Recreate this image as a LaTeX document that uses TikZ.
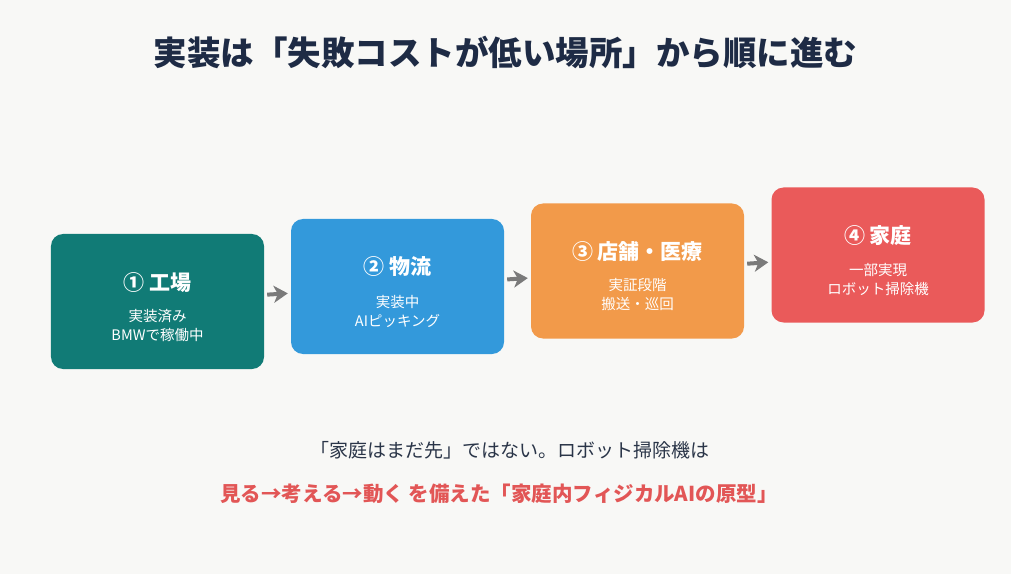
\documentclass[tikz,border=0pt]{standalone}
\usepackage{fontspec}
\setmainfont{Noto Sans CJK JP}
\usetikzlibrary{arrows.meta}
\definecolor{bgcol}{HTML}{F8F8F6}
\definecolor{navy}{HTML}{1E2B45}
\definecolor{textdark}{HTML}{2A3548}
\definecolor{accentred}{HTML}{E25656}
\definecolor{teal}{HTML}{117B76}
\definecolor{skyblue}{HTML}{3399DB}
\definecolor{orange}{HTML}{F29A4A}
\definecolor{coral}{HTML}{EA5A5A}
\definecolor{arrowgray}{HTML}{7A7A7A}
\tikzset{
  stage/.style={rounded corners=12bp,minimum width=213bp,minimum height=135bp,inner sep=0pt},
  stagetitle/.style={text=white,font=\fontsize{21bp}{25bp}\selectfont\bfseries},
  stagenote/.style={text=white,align=center,font=\fontsize{14.5bp}{19bp}\selectfont},
  flow/.style={draw=arrowgray,line width=4bp,-{Stealth[length=14bp,width=17bp,inset=4bp]},shorten <=3bp,shorten >=3bp},
}
\begin{document}
\begin{tikzpicture}[x=1bp,y=-1bp]
%%
\fill [bgcol] (0,0) rectangle (1011,574);
\useasboundingbox (0,0) rectangle (1011,574);
\node (title) at (505.5,52) [text=navy,font=\fontsize{33.5bp}{40bp}\selectfont\bfseries] {実装は「失敗コストが低い場所」から順に進む};
%
\node (factory) at (157.5,301.5) [stage,fill=teal] {};
  \node (factory_t) at (157.5,283) [stagetitle] {① 工場};
  \node (factory_n) at (157.5,326) [stagenote] {実装済み\\BMWで稼働中};
\node (logistics) at (397.5,286.5) [stage,fill=skyblue] {};
  \node (logistics_t) at (397.5,267) [stagetitle] {② 物流};
  \node (logistics_n) at (397.5,311) [stagenote] {実装中\\AIピッキング};
\node (retail) at (637.5,271) [stage,fill=orange] {};
  \node (retail_t) at (637.5,252) [stagetitle] {③ 店舗・医療};
  \node (retail_n) at (637.5,295) [stagenote] {実証段階\\搬送・巡回};
\node (home) at (878,255) [stage,fill=coral] {};
  \node (home_t) at (878,236) [stagetitle] {④ 家庭};
  \node (home_n) at (878,280) [stagenote] {一部実現\\ロボット掃除機};
%
\draw [flow] (factory) -- (logistics);
\draw [flow] (logistics) -- (retail);
\draw [flow] (retail) -- (home);
%
\node (remark) at (510,450) [text=textdark,font=\fontsize{19bp}{23bp}\selectfont] {「家庭はまだ先」ではない。ロボット掃除機は};
\node (claim) at (499,494) [text=accentred,font=\fontsize{20.5bp}{25bp}\selectfont\bfseries] {見る→考える→動く を備えた「家庭内フィジカルAIの原型」};
%
\end{tikzpicture}
\end{document}
